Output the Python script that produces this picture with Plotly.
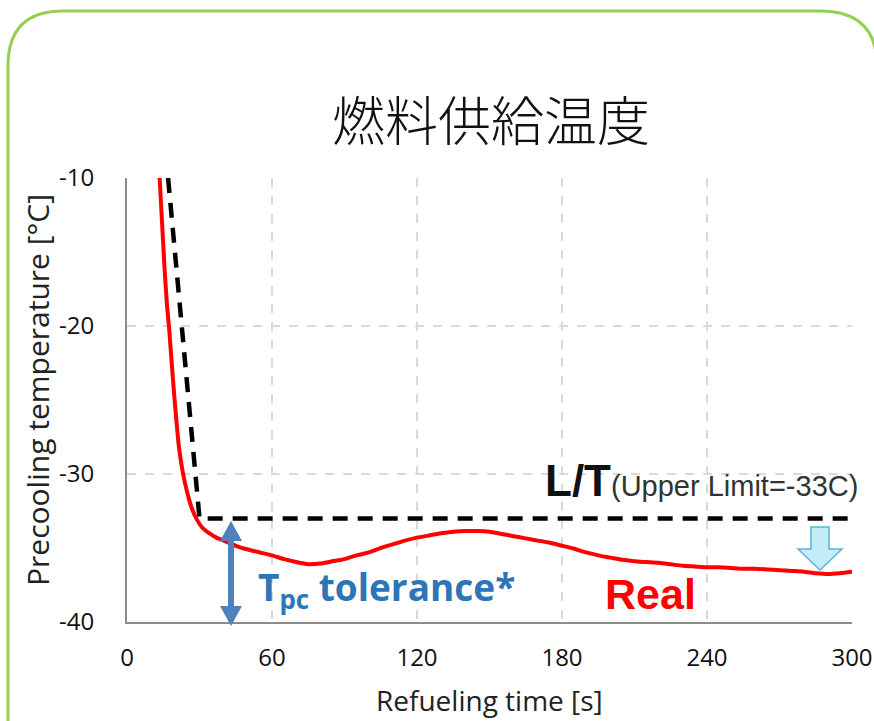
import plotly.graph_objects as go

# ---------------- data ----------------
real_t = [13.5, 14.5, 15.5, 16.5, 17.5, 18.5, 19.5, 20.5, 21.5, 23, 25, 27, 29, 31, 34, 37, 40,
          45, 50, 55, 60, 65, 70, 75, 80, 85, 90, 95, 100, 105, 110, 115, 120, 125, 130, 135,
          140, 145, 150, 155, 160, 165, 170, 175, 180, 185, 190, 195, 200, 205, 210, 215, 220,
          225, 230, 235, 240, 245, 250, 255, 260, 265, 270, 275, 280, 285, 290, 295, 300]
real_temp = [-10, -13, -16, -18.5, -20.3, -22.5, -24.6, -26.5, -28.2, -29.8, -31.3, -32.4, -33.1,
             -33.6, -34.0, -34.3, -34.5, -34.85, -35.1, -35.3, -35.5, -35.75, -35.95, -36.1,
             -36.05, -35.9, -35.75, -35.5, -35.3, -35.0, -34.75, -34.5, -34.3, -34.15, -34.0,
             -33.9, -33.85, -33.85, -33.9, -34.05, -34.2, -34.35, -34.5, -34.65, -34.85, -35.05,
             -35.3, -35.5, -35.65, -35.8, -35.9, -35.95, -36.0, -36.1, -36.2, -36.25, -36.3,
             -36.3, -36.35, -36.4, -36.4, -36.45, -36.5, -36.55, -36.6, -36.7, -36.75, -36.7, -36.6]

limit_t = [17, 30, 300]
limit_temp = [-10, -33, -33]

x_ticks = [0, 60, 120, 180, 240, 300]
y_ticks = [-10, -20, -30, -40]

# ---------------- layout helpers ----------------
W, H = 874, 721
ML, MR, MT, MB = 127, 22, 178, 99
PW, PH = W - ML - MR, H - MT - MB


def px(x):
    return (x - ML) / PW


def py(y):
    return (H - MB - y) / PH


SANS = "'Open Sans', sans-serif"
ARIAL = "'Liberation Sans', Arial, sans-serif"

fig = go.Figure()
fig.add_trace(go.Scatter(x=limit_t, y=limit_temp, mode="lines",
                         line=dict(color="black", width=4.5, dash="15px,10px"),
                         hoverinfo="skip", showlegend=False))
fig.add_trace(go.Scatter(x=real_t, y=real_temp, mode="lines",
                         line=dict(color="#ff0000", width=4, shape="spline", smoothing=0.6),
                         hoverinfo="skip", showlegend=False))

shapes = []
# green rounded frame
frame = (f"M {px(8)},{py(730)} L {px(8)},{py(66)} Q {px(8)},{py(11)} {px(63)},{py(11)} "
         f"L {px(820)},{py(11)} Q {px(877)},{py(11)} {px(877)},{py(66)} L {px(877)},{py(730)}")
shapes.append(dict(type="path", xref="paper", yref="paper", path=frame,
                   line=dict(color="#92d050", width=3), layer="below"))

# blue double arrow (tolerance)
ax_x = 231
shapes.append(dict(type="line", xref="paper", yref="paper", x0=px(ax_x), x1=px(ax_x),
                   y0=py(538), y1=py(610), line=dict(color="#4f81bd", width=6)))
shapes.append(dict(type="path", xref="paper", yref="paper",
                   path=f"M {px(ax_x)},{py(521)} L {px(ax_x-11)},{py(541)} L {px(ax_x+11)},{py(541)} Z",
                   fillcolor="#4f81bd", line=dict(width=0)))
shapes.append(dict(type="path", xref="paper", yref="paper",
                   path=f"M {px(ax_x)},{py(626)} L {px(ax_x-11)},{py(606)} L {px(ax_x+11)},{py(606)} Z",
                   fillcolor="#4f81bd", line=dict(width=0)))

# light-blue block arrow (down)
bx = 820
blk = (f"M {px(bx-9)},{py(527)} L {px(bx+9)},{py(527)} L {px(bx+9)},{py(549)} "
       f"L {px(bx+22)},{py(549)} L {px(bx)},{py(570)} L {px(bx-22)},{py(549)} "
       f"L {px(bx-9)},{py(549)} Z")
shapes.append(dict(type="path", xref="paper", yref="paper", path=blk,
                   fillcolor="#c6ebf8", line=dict(color="#5ab4d6", width=1.5)))

annotations = [
    dict(text="燃料供給温度", x=px(491), y=py(118), xref="paper", yref="paper",
         showarrow=False, xanchor="center", yanchor="middle",
         font=dict(family="'Noto Sans CJK JP'", size=53, color="#111", weight=300)),
    dict(text="Refueling time [s]", x=px(489), y=py(700), xref="paper", yref="paper",
         showarrow=False, xanchor="center", yanchor="middle",
         font=dict(family=SANS, size=28, color="#222")),
    dict(text="Precooling temperature [°C]", x=px(37), y=py(390), xref="paper", yref="paper",
         showarrow=False, xanchor="center", yanchor="middle", textangle=-90,
         font=dict(family=SANS, size=30, color="#222")),
    dict(text="<b>L/T</b><span style='font-size:29px;color:#333'>(Upper Limit=-33C)</span>",
         x=px(543), y=py(480), xref="paper", yref="paper",
         showarrow=False, xanchor="left", yanchor="middle",
         font=dict(family=ARIAL, size=44, color="#111")),
    dict(text="<b>T<sub>pc</sub> tolerance*</b>",
         x=px(256), y=py(589), xref="paper", yref="paper",
         showarrow=False, xanchor="left", yanchor="middle",
         font=dict(family=SANS, size=37, color="#2e75b6")),
    dict(text="<b>Real</b>",
         x=px(603), y=py(594), xref="paper", yref="paper",
         showarrow=False, xanchor="left", yanchor="middle",
         font=dict(family=ARIAL, size=43, color="#ff0000")),
]

fig.update_layout(
    width=W, height=H,
    margin=dict(l=ML, r=MR, t=MT, b=MB, autoexpand=False),
    paper_bgcolor="white", plot_bgcolor="white",
    shapes=shapes, annotations=annotations,
    xaxis=dict(range=[0, 300], tickvals=x_ticks, ticktext=[str(v) for v in x_ticks],
               automargin=False,
               showgrid=True, gridcolor="#d9d9d9", griddash="dash", gridwidth=1.5,
               showline=True, linecolor="#8c8c8c", linewidth=2, zeroline=False,
               ticks="", ticklabelstandoff=13,
               tickfont=dict(family=SANS, size=24, color="#111")),
    yaxis=dict(range=[-40, -10], tickvals=y_ticks, ticktext=[str(v) for v in y_ticks],
               automargin=False,
               showgrid=True, gridcolor="#d9d9d9", griddash="dash", gridwidth=1.5,
               showline=True, linecolor="#8c8c8c", linewidth=2, zeroline=False,
               ticks="", ticklabelstandoff=26,
               tickfont=dict(family=SANS, size=24, color="#111")),
)

fig.write_html("out.html")
